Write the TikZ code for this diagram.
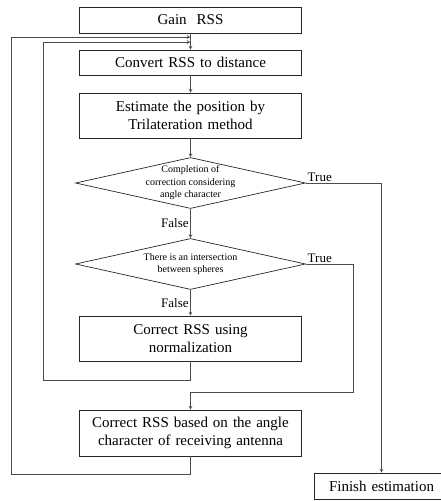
\documentclass[tikz,border=0pt]{standalone}
\usepackage{fontspec}
\setmainfont{Liberation Serif}
\usetikzlibrary{shapes.geometric, arrows}
\tikzstyle{stepbox} = [rectangle, 
minimum width=221pt, 
minimum height=26pt,
text width=215pt,
text centered, 
font=\fontsize{15}{18.5}\selectfont,
draw=black!85, line width=0.7pt]
\tikzstyle{decision} = [diamond, 
shape aspect=4.5,
minimum width=230pt, 
minimum height=51pt,
inner sep=-6pt,
align=center, 
font=\fontsize{10}{12.5}\selectfont,
draw=black!85, line width=0.7pt]
\tikzstyle{branch} = [font=\fontsize{13}{15}\selectfont, inner sep=1.5pt]
\tikzstyle{arrow} = [->,>=stealth, draw=black!70, line width=0.7pt]

\begin{document}
\begin{tikzpicture}[node distance=40pt]
\useasboundingbox (0pt,0pt) rectangle (440pt,-501pt);

\node (gain) [stepbox] at (190.5pt,-20pt) {Gain\ \ RSS};

\node (convert) [stepbox, minimum height=25pt, below of=gain, yshift=-2.5pt] {Convert RSS to distance};

\node (estimate) [stepbox, minimum height=45pt, below of=convert, yshift=-13pt] {Estimate the position by\\Trilateration method};

\node (check) [decision, below of=estimate, yshift=-27.5pt] {Completion of\\correction considering\\angle character};

\node (sphere) [decision, below of=check, yshift=-41pt] {There is an intersection\\between spheres};

\node (norm) [stepbox, minimum height=45pt, below of=sphere, yshift=-34.5pt] {Correct RSS using\\normalization};

\node (angle) [stepbox, minimum height=46pt, below of=norm, yshift=-54.5pt] {Correct RSS based on the angle\\character of receiving antenna};

\node (finish) [stepbox, minimum width=131pt, text width=128pt, right of=angle, xshift=151pt, yshift=-53pt] {Finish estimation};

\coordinate (in2) at (190.5pt,-37pt);
\coordinate (in1) at (190.5pt,-42pt);
\coordinate (loopa) at (43pt,-380pt);
\coordinate (loopb) at (11pt,-474pt);
\coordinate (turn) at (353pt,-392pt);


\draw [arrow] (gain) -- (convert);

\draw [arrow] (convert) -- (estimate);

\draw [arrow] (estimate) -- (check);

\draw [arrow] (check) -- node [branch, left] {False} (sphere);

\draw [arrow] (sphere) -- node [branch, left] {False} (norm);

\draw [arrow] (check.east) node [branch, anchor=south west] {True} -| (finish.north);

\draw [arrow] (sphere.east) node [branch, anchor=south west] {True} -| (turn) -| (angle.north);

\draw [arrow] (norm.south) |- (loopa) |- (in1);

\draw [arrow] (angle.south) |- (loopb) |- (in2);

\end{tikzpicture}
\end{document}
